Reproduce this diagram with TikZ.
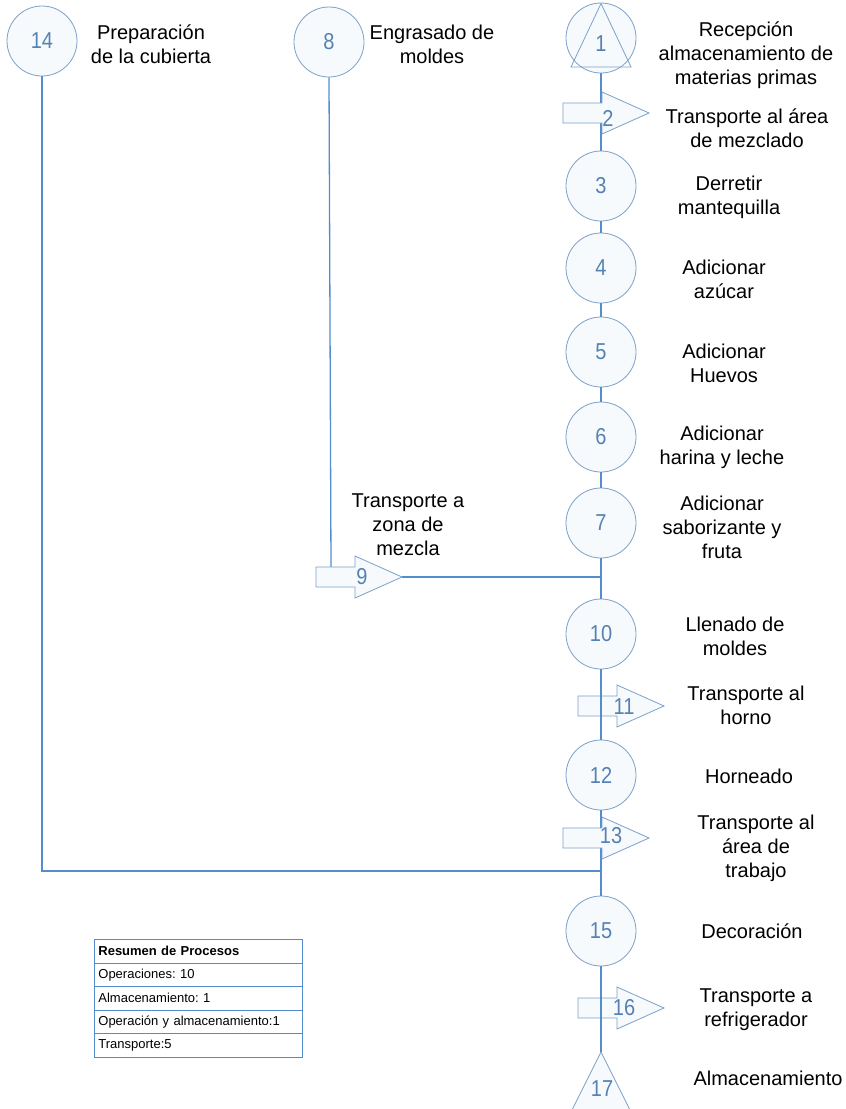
\documentclass[tikz,border=0pt]{standalone}
\usepackage{fontspec}
\setmainfont{Liberation Sans}
\frenchspacing
\begin{document}
\begin{tikzpicture}[x=1pt,y=-1pt]
\definecolor{lc}{RGB}{84,141,205}
\definecolor{cc}{RGB}{125,160,200}
\definecolor{nc}{RGB}{85,130,180}
\definecolor{fc}{RGB}{247,250,253}
\tikzset{
 op/.style={circle, draw=cc, fill=fc, line width=0.8pt, minimum size=70pt, inner sep=0pt, text=nc, font=\fontsize{20}{20}\selectfont},
 lab/.style={align=center, font=\fontsize{20}{24}\selectfont, text=black, inner sep=0pt},
 conn/.style={draw=lc, line width=1.3pt},
 tr/.style={draw=cc, fill=fc, line width=0.8pt},
 num/.style={text=nc, font=\fontsize{20}{20}\selectfont, inner sep=0pt},
 row/.style={draw=lc, line width=0.8pt, minimum width=208pt, minimum height=23.5pt, text width=200pt, align=left, font=\fontsize{13}{15}\selectfont, anchor=north west, inner sep=4pt},
 transp/.pic={\draw[tr] (-39,-10) -- (0,-10) -- (0,-21) -- (47,0) -- (0,21) -- (0,10) -- (-39,10) -- cycle;}
}
\useasboundingbox (0,0) rectangle (846,1109);
\clip (0,0) rectangle (846,1109);
\fill[white] (0,0) rectangle (846,1109);

% junction coordinates
\coordinate (j9) at (601,577);
\coordinate (j14) at (601,871);
\coordinate (r9) at (331,567);
\coordinate (a9) at (402,577);

% circles
\node[op] (c14) at (42,41) {\scalebox{1}[1.15]{14}};
\node[op] (c8) at (329,42) {\scalebox{1}[1.15]{8}};
\node[op] (c1) at (601,38) {};
\node[op] (c3) at (601,186) {\scalebox{1}[1.15]{3}};
\node[op] (c4) at (601,268) {\scalebox{1}[1.15]{4}};
\node[op] (c5) at (601,352) {\scalebox{1}[1.15]{5}};
\node[op] (c6) at (601,437) {\scalebox{1}[1.15]{6}};
\node[op] (c7) at (601,523) {\scalebox{1}[1.15]{7}};
\node[op] (c10) at (601,634) {\scalebox{1}[1.15]{10}};
\node[op] (c12) at (601,775) {\scalebox{1}[1.15]{12}};
\node[op] (c15) at (601,931) {\scalebox{1}[1.15]{15}};
\coordinate (s17) at (601,1052);

% triangle in circle 1
\draw[draw=cc, line width=0.8pt] (601,3.5) -- (631,67) -- (571,67) -- cycle;
\node[num] (n1) at (601,44) {\scalebox{1}[1.15]{1}};

% storage triangle 17
\draw[tr] (s17) -- (636,1122) -- (566,1122) -- cycle;
\node[num] (n17) at (602,1089) {\scalebox{1}[1.15]{17}};

% connectors
\draw[conn] (c1.south) -- (c3.north);
\draw[conn] (c3.south) -- (c4.north);
\draw[conn] (c4.south) -- (c5.north);
\draw[conn] (c5.south) -- (c6.north);
\draw[conn] (c6.south) -- (c7.north);
\draw[conn] (c7.south) -- (j9) -- (c10.north);
\draw[conn] (c12.south) -- (j14) -- (c15.north);
\draw[conn] (c14.south) |- (j14);
\draw[conn] (c8.south) -- (r9);
\draw[conn] (a9) -- (j9);

% transport arrows
\pic at (602,113) {transp};
\node[num] (n2) at (608,118) {\scalebox{1}[1.15]{2}};
\pic at (355,577) {transp};
\node[num] (n9) at (362,577) {\scalebox{1}[1.15]{9}};
\pic at (617,706) {transp};
\pic at (602,838) {transp};
\node[num] (n13) at (611,836) {\scalebox{1}[1.15]{13}};
\pic at (617,1008) {transp};
\draw[conn] (c10.south) -- (c12.north);
\node[num] (n11) at (624,707) {\scalebox{1}[1.15]{11}};
\draw[conn] (c15.south) -- (s17);
\node[num] (n16) at (624,1008) {\scalebox{1}[1.15]{16}};

% labels
\node[lab] (l14) at (151,44) {Preparación\\de la cubierta};
\node[lab] (l8) at (432,44) {Engrasado de\\moldes};
\node[lab] (l1) at (746,55) {Recepción\\almacenamiento de\\materias primas};
\node[lab] (l2) at (747,128) {Transporte al área\\de mezclado};
\node[lab] (l3) at (729,197) {Derretir\\mantequilla};
\node[lab] (l4) at (724,279) {Adicionar\\azúcar};
\node[lab] (l5) at (724,363) {Adicionar\\Huevos};
\node[lab] (l6) at (722,447) {Adicionar\\harina y leche};
\node[lab] (l7) at (722,527) {Adicionar\\saborizante y\\fruta};
\node[lab] (l9) at (408,525) {Transporte a\\zona de\\mezcla};
\node[lab] (l10) at (735,636) {Llenado de\\moldes};
\node[lab] (l11) at (746,705) {Transporte al\\horno};
\node[lab] (l12) at (749,776) {Horneado};
\node[lab] (l13) at (756,848) {Transporte al\\área de\\trabajo};
\node[lab] (l15) at (752,931) {Decoración};
\node[lab] (l16) at (756,1010) {Transporte a\\refrigerador};
\node[lab] (l17) at (768,1078) {Almacenamiento};

% summary table
\node[row, font=\fontsize{13}{15}\selectfont\bfseries] (t0) at (94,939) {Resumen de Procesos};
\node[row] (t1) at (94,962.5) {Operaciones: 10};
\node[row] (t2) at (94,986) {Almacenamiento: 1};
\node[row] (t3) at (94,1009.5) {Operación y almacenamiento:1};
\node[row] (t4) at (94,1033) {Transporte:5};
\end{tikzpicture}
\end{document}
